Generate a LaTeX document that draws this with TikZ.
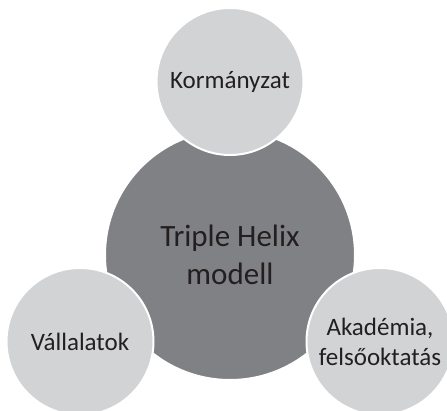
\documentclass[tikz,border=0pt]{standalone}
\usepackage{fontspec}
\setmainfont{Carlito}
\definecolor{biggray}{HTML}{808184}
\definecolor{smallgray}{HTML}{D1D3D4}
\definecolor{txt}{HTML}{231F20}
\tikzset{
  bigcirc/.style={circle, fill=biggray, draw=white, line width=2pt, minimum size=250pt, inner sep=0pt, align=center, text=txt, font=\fontsize{31}{38}\selectfont},
  smallcirc/.style={circle, fill=smallgray, draw=white, line width=2pt, minimum size=147pt, inner sep=0pt, align=center, text=txt, font=\fontsize{25}{30}\selectfont}
}
\begin{document}
\begin{tikzpicture}[x=1pt,y=-1pt]
\useasboundingbox (0,0) rectangle (447,411);
\clip (0,0) rectangle (447,411);
\fill[white] (0,0) rectangle (447,411);
\node[bigcirc] (center) at (230,255) {Triple Helix\\modell};
\node[smallcirc] (gov) at (230,81.5) {Kormányzat};
\node[smallcirc] (comp) at (80,341.5) {Vállalatok};
\node[smallcirc] (acad) at (380,341.5) {Akadémia,\\felsőoktatás};
\end{tikzpicture}
\end{document}
